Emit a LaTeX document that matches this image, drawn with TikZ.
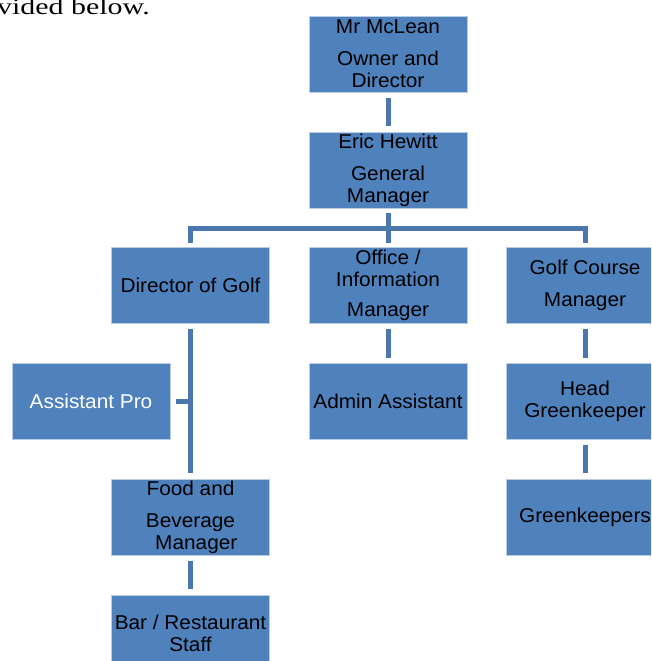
\documentclass[tikz,border=0pt]{standalone}
\usepackage{fontspec}
\newfontfamily\boxfont[FakeStretch=1.04]{Liberation Sans}
\newfontfamily\seriffont[FakeStretch=1.3]{Liberation Serif}
\definecolor{boxblue}{HTML}{4F81BD}
\definecolor{connblue}{HTML}{4A78AE}
\begin{document}
\begin{tikzpicture}[x=1pt,y=-1pt,
  orgbox/.style={rectangle, fill=boxblue, draw=boxblue!40!white, line width=0.4pt,
    minimum width=158pt, minimum height=76pt, inner sep=0pt, align=center,
    font=\boxfont\fontsize{20}{22}\selectfont, text=black},
  conn/.style={draw=connblue, line width=5pt},
  gap/.style={shorten <=5.5pt, shorten >=5.5pt}]
\clip (0,0) rectangle (651,661);
\useasboundingbox (0,0) rectangle (651,661);

\node[anchor=base west, font=\seriffont\fontsize{23}{25}\selectfont, inner sep=0pt] (intro) at (-3,15) {vided below.};

\node[orgbox] (mcl) at (388,54) {Mr McLean\\[10pt]Owner and\\Director};
\node[orgbox] (eric) at (388,170) {Eric Hewitt\\[10pt]General\\Manager};
\node[orgbox] (dog) at (190.5,285.5) {Director of Golf};
\node[orgbox] (off) at (388,285.5) {Office /\\Information\\[8pt]Manager};
\node[orgbox] (gcm) at (585,285.5) {Golf Course\\[10pt]Manager};
\node[orgbox, text=white] (ap) at (91,401.5) {Assistant Pro};
\node[orgbox] (adm) at (388,401.5) {Admin Assistant};
\node[orgbox] (hg) at (585,401.5) {Head\\Greenkeeper};
\node[orgbox] (fb) at (190.5,517) {Food and\\[10pt]Beverage\\\ \ Manager};
\node[orgbox] (gk) at (585,517) {Greenkeepers};
\node[orgbox] (bar) at (190.5,633) {Bar / Restaurant\\Staff};

\coordinate (bus) at (0,228);
\draw[conn, gap] (mcl.south) -- (eric.north);
\draw[conn] ([yshift=-5pt]eric.south) -- (eric.south |- bus);
\draw[conn, line cap=rect] (dog.north |- bus) -- (gcm.north |- bus);
\draw[conn] (dog.north |- bus) -- ([yshift=4pt]dog.north);
\draw[conn] (off.north |- bus) -- ([yshift=4pt]off.north);
\draw[conn] (gcm.north |- bus) -- ([yshift=4pt]gcm.north);
\draw[conn, gap] (dog.south) -- (fb.north);
\draw[conn] ([xshift=6pt]ap.east) -- (ap.east -| dog.south);
\draw[conn, gap] (off.south) -- (adm.north);
\draw[conn, gap] (gcm.south) -- (hg.north);
\draw[conn, gap] (hg.south) -- (gk.north);
\draw[conn, gap] (fb.south) -- (bar.north);
\end{tikzpicture}
\end{document}
